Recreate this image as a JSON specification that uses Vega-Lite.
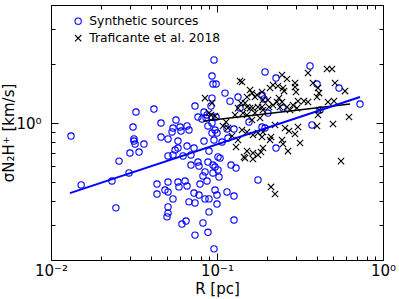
{
  "$schema": "https://vega.github.io/schema/vega-lite/v6.json",
  "width": 332,
  "height": 255,
  "autosize": {"type": "none"},
  "padding": {"left": 51, "top": 5, "right": 16, "bottom": 39},
  "config": {
    "font": "DejaVu Sans",
    "view": {"stroke": "black", "strokeWidth": 1},
    "axis": {"grid": false, "domain": false, "tickColor": "black", "labelColor": "black", "titleColor": "black", "labelFontSize": 15, "titleFontSize": 15, "titleFontWeight": "normal", "labelFlush": false, "labelOverlap": false}
  },
  "datasets": {
    "pts": [
      {"R":0.0132,"sigma":0.858,"series":"Synthetic sources"},{"R":0.0152,"sigma":0.483,"series":"Synthetic sources"},{"R":0.0233,"sigma":0.506,"series":"Synthetic sources"},{"R":0.0246,"sigma":0.369,"series":"Synthetic sources"},{"R":0.0257,"sigma":0.639,"series":"Synthetic sources"},{"R":0.0295,"sigma":0.556,"series":"Synthetic sources"},{"R":0.0299,"sigma":0.703,"series":"Synthetic sources"},{"R":0.0312,"sigma":0.954,"series":"Synthetic sources"},{"R":0.0316,"sigma":0.829,"series":"Synthetic sources"},{"R":0.0325,"sigma":1.138,"series":"Synthetic sources"},{"R":0.0339,"sigma":0.711,"series":"Synthetic sources"},{"R":0.0316,"sigma":0.809,"series":"Synthetic sources"},{"R":0.0321,"sigma":0.781,"series":"Synthetic sources"},{"R":0.0363,"sigma":0.781,"series":"Synthetic sources"},{"R":0.0417,"sigma":1.178,"series":"Synthetic sources"},{"R":0.0435,"sigma":0.488,"series":"Synthetic sources"},{"R":0.0435,"sigma":0.434,"series":"Synthetic sources"},{"R":0.046,"sigma":1.0,"series":"Synthetic sources"},{"R":0.046,"sigma":0.848,"series":"Synthetic sources"},{"R":0.0486,"sigma":0.455,"series":"Synthetic sources"},{"R":0.0507,"sigma":0.5,"series":"Synthetic sources"},{"R":0.0507,"sigma":0.445,"series":"Synthetic sources"},{"R":0.0507,"sigma":0.373,"series":"Synthetic sources"},{"R":0.0507,"sigma":0.347,"series":"Synthetic sources"},{"R":0.05,"sigma":0.332,"series":"Synthetic sources"},{"R":0.0507,"sigma":0.829,"series":"Synthetic sources"},{"R":0.0507,"sigma":0.679,"series":"Synthetic sources"},{"R":0.0543,"sigma":0.41,"series":"Synthetic sources"},{"R":0.0959,"sigma":2.097,"series":"Synthetic sources"},{"R":0.0933,"sigma":1.737,"series":"Synthetic sources"},{"R":0.0946,"sigma":1.581,"series":"Synthetic sources"},{"R":0.0987,"sigma":1.581,"series":"Synthetic sources"},{"R":0.1118,"sigma":1.421,"series":"Synthetic sources"},{"R":0.1338,"sigma":1.357,"series":"Synthetic sources"},{"R":0.1198,"sigma":1.293,"series":"Synthetic sources"},{"R":0.0933,"sigma":1.34,"series":"Synthetic sources"},{"R":0.0737,"sigma":1.22,"series":"Synthetic sources"},{"R":0.092,"sigma":1.22,"series":"Synthetic sources"},{"R":0.0835,"sigma":1.138,"series":"Synthetic sources"},{"R":0.0768,"sigma":1.073,"series":"Synthetic sources"},{"R":0.0812,"sigma":1.049,"series":"Synthetic sources"},{"R":0.0566,"sigma":1.036,"series":"Synthetic sources"},{"R":0.0543,"sigma":0.943,"series":"Synthetic sources"},{"R":0.0599,"sigma":0.954,"series":"Synthetic sources"},{"R":0.0607,"sigma":0.91,"series":"Synthetic sources"},{"R":0.0536,"sigma":0.9,"series":"Synthetic sources"},{"R":0.066,"sigma":0.966,"series":"Synthetic sources"},{"R":0.0678,"sigma":0.921,"series":"Synthetic sources"},{"R":0.0582,"sigma":0.809,"series":"Synthetic sources"},{"R":0.0582,"sigma":0.745,"series":"Synthetic sources"},{"R":0.066,"sigma":0.763,"series":"Synthetic sources"},{"R":0.0727,"sigma":0.745,"series":"Synthetic sources"},{"R":0.0543,"sigma":0.687,"series":"Synthetic sources"},{"R":0.0624,"sigma":0.679,"series":"Synthetic sources"},{"R":0.0697,"sigma":0.687,"series":"Synthetic sources"},{"R":0.0895,"sigma":0.719,"series":"Synthetic sources"},{"R":0.0835,"sigma":0.809,"series":"Synthetic sources"},{"R":0.0959,"sigma":0.819,"series":"Synthetic sources"},{"R":0.1072,"sigma":0.8,"series":"Synthetic sources"},{"R":0.1,"sigma":0.889,"series":"Synthetic sources"},{"R":0.0882,"sigma":0.966,"series":"Synthetic sources"},{"R":0.0933,"sigma":1.0,"series":"Synthetic sources"},{"R":0.0933,"sigma":0.889,"series":"Synthetic sources"},{"R":0.1014,"sigma":0.671,"series":"Synthetic sources"},{"R":0.1043,"sigma":0.662,"series":"Synthetic sources"},{"R":0.1215,"sigma":0.61,"series":"Synthetic sources"},{"R":0.1302,"sigma":0.589,"series":"Synthetic sources"},{"R":0.0882,"sigma":0.632,"series":"Synthetic sources"},{"R":0.0973,"sigma":0.596,"series":"Synthetic sources"},{"R":0.1014,"sigma":0.576,"series":"Synthetic sources"},{"R":0.0847,"sigma":0.563,"series":"Synthetic sources"},{"R":0.1149,"sigma":0.932,"series":"Synthetic sources"},{"R":0.1266,"sigma":0.932,"series":"Synthetic sources"},{"R":0.1165,"sigma":0.838,"series":"Synthetic sources"},{"R":0.0933,"sigma":1.073,"series":"Synthetic sources"},{"R":0.0859,"sigma":1.06,"series":"Synthetic sources"},{"R":0.0582,"sigma":0.5,"series":"Synthetic sources"},{"R":0.0642,"sigma":0.506,"series":"Synthetic sources"},{"R":0.066,"sigma":0.477,"series":"Synthetic sources"},{"R":0.059,"sigma":0.472,"series":"Synthetic sources"},{"R":0.079,"sigma":0.488,"series":"Synthetic sources"},{"R":0.0871,"sigma":0.506,"series":"Synthetic sources"},{"R":0.0823,"sigma":0.537,"series":"Synthetic sources"},{"R":0.0946,"sigma":0.556,"series":"Synthetic sources"},{"R":0.1028,"sigma":0.53,"series":"Synthetic sources"},{"R":0.0727,"sigma":0.439,"series":"Synthetic sources"},{"R":0.0779,"sigma":0.429,"series":"Synthetic sources"},{"R":0.0678,"sigma":0.396,"series":"Synthetic sources"},{"R":0.0737,"sigma":0.391,"series":"Synthetic sources"},{"R":0.0847,"sigma":0.41,"series":"Synthetic sources"},{"R":0.0895,"sigma":0.41,"series":"Synthetic sources"},{"R":0.0973,"sigma":0.455,"series":"Synthetic sources"},{"R":0.1,"sigma":0.429,"series":"Synthetic sources"},{"R":0.1149,"sigma":0.445,"series":"Synthetic sources"},{"R":0.1266,"sigma":0.424,"series":"Synthetic sources"},{"R":0.1,"sigma":0.386,"series":"Synthetic sources"},{"R":0.0895,"sigma":0.352,"series":"Synthetic sources"},{"R":0.0651,"sigma":0.316,"series":"Synthetic sources"},{"R":0.0615,"sigma":0.305,"series":"Synthetic sources"},{"R":0.0823,"sigma":0.309,"series":"Synthetic sources"},{"R":0.1266,"sigma":0.32,"series":"Synthetic sources"},{"R":0.0737,"sigma":0.268,"series":"Synthetic sources"},{"R":0.0882,"sigma":0.277,"series":"Synthetic sources"},{"R":0.0959,"sigma":0.228,"series":"Synthetic sources"},{"R":0.0559,"sigma":0.728,"series":"Synthetic sources"},{"R":0.0697,"sigma":0.61,"series":"Synthetic sources"},{"R":0.0768,"sigma":0.632,"series":"Synthetic sources"},{"R":0.0779,"sigma":0.603,"series":"Synthetic sources"},{"R":0.1947,"sigma":1.821,"series":"Synthetic sources"},{"R":0.2267,"sigma":1.696,"series":"Synthetic sources"},{"R":0.3633,"sigma":1.954,"series":"Synthetic sources"},{"R":0.4004,"sigma":1.581,"series":"Synthetic sources"},{"R":0.1867,"sigma":1.389,"series":"Synthetic sources"},{"R":0.192,"sigma":1.326,"series":"Synthetic sources"},{"R":0.2498,"sigma":1.191,"series":"Synthetic sources"},{"R":0.5433,"sigma":1.508,"series":"Synthetic sources"},{"R":0.7269,"sigma":1.249,"series":"Synthetic sources"},{"R":0.3735,"sigma":0.977,"series":"Synthetic sources"},{"R":0.2267,"sigma":0.745,"series":"Synthetic sources"},{"R":0.1867,"sigma":0.954,"series":"Synthetic sources"},{"R":0.1947,"sigma":0.943,"series":"Synthetic sources"},{"R":0.1559,"sigma":1.012,"series":"Synthetic sources"},{"R":0.1766,"sigma":0.512,"series":"Synthetic sources"},{"R":0.2028,"sigma":1.124,"series":"Synthetic sources"},{"R":0.4174,"sigma":1.165,"series":"Synthetic sources"},{"R":0.1376,"sigma":1.191,"series":"Synthetic sources"},{"R":0.0871,"sigma":1.099,"series":"Synthetic sources"},{"R":0.0987,"sigma":1.073,"series":"Synthetic sources"},{"R":0.0973,"sigma":0.921,"series":"Synthetic sources"},{"R":0.0946,"sigma":0.61,"series":"Synthetic sources"},
      {"R":0.0847,"sigma":1.34,"series":"Traficante et al. 2018"},{"R":0.0933,"sigma":1.263,"series":"Traficante et al. 2018"},{"R":0.1376,"sigma":1.637,"series":"Traficante et al. 2018"},{"R":0.1415,"sigma":1.619,"series":"Traficante et al. 2018"},{"R":0.1395,"sigma":1.263,"series":"Traficante et al. 2018"},{"R":0.092,"sigma":1.099,"series":"Traficante et al. 2018"},{"R":0.0973,"sigma":1.086,"series":"Traficante et al. 2018"},{"R":0.1134,"sigma":1.012,"series":"Traficante et al. 2018"},{"R":0.1087,"sigma":0.966,"series":"Traficante et al. 2018"},{"R":0.1165,"sigma":0.943,"series":"Traficante et al. 2018"},{"R":0.1232,"sigma":0.858,"series":"Traficante et al. 2018"},{"R":0.1338,"sigma":1.191,"series":"Traficante et al. 2018"},{"R":0.1415,"sigma":0.921,"series":"Traficante et al. 2018"},{"R":0.1454,"sigma":0.671,"series":"Traficante et al. 2018"},{"R":0.2464,"sigma":1.758,"series":"Traficante et al. 2018"},{"R":0.2641,"sigma":1.678,"series":"Traficante et al. 2018"},{"R":0.2951,"sigma":1.599,"series":"Traficante et al. 2018"},{"R":0.2951,"sigma":1.526,"series":"Traficante et al. 2018"},{"R":0.2993,"sigma":1.439,"series":"Traficante et al. 2018"},{"R":0.2174,"sigma":1.563,"series":"Traficante et al. 2018"},{"R":0.233,"sigma":1.544,"series":"Traficante et al. 2018"},{"R":0.2086,"sigma":1.508,"series":"Traficante et al. 2018"},{"R":0.2498,"sigma":1.508,"series":"Traficante et al. 2018"},{"R":0.2534,"sigma":1.455,"series":"Traficante et al. 2018"},{"R":0.1581,"sigma":1.473,"series":"Traficante et al. 2018"},{"R":0.1625,"sigma":1.421,"series":"Traficante et al. 2018"},{"R":0.1516,"sigma":1.357,"series":"Traficante et al. 2018"},{"R":0.1695,"sigma":1.357,"series":"Traficante et al. 2018"},{"R":0.3075,"sigma":1.293,"series":"Traficante et al. 2018"},{"R":0.3343,"sigma":1.293,"series":"Traficante et al. 2018"},{"R":0.3533,"sigma":1.279,"series":"Traficante et al. 2018"},{"R":0.3786,"sigma":1.599,"series":"Traficante et al. 2018"},{"R":0.3533,"sigma":1.799,"series":"Traficante et al. 2018"},{"R":0.1475,"sigma":1.263,"series":"Traficante et al. 2018"},{"R":0.2028,"sigma":1.309,"series":"Traficante et al. 2018"},{"R":0.2174,"sigma":1.234,"series":"Traficante et al. 2018"},{"R":0.2464,"sigma":1.279,"series":"Traficante et al. 2018"},{"R":0.2641,"sigma":1.206,"series":"Traficante et al. 2018"},{"R":0.2869,"sigma":1.234,"series":"Traficante et al. 2018"},{"R":0.1867,"sigma":1.206,"series":"Traficante et al. 2018"},{"R":0.1581,"sigma":1.191,"series":"Traficante et al. 2018"},{"R":0.46,"sigma":1.887,"series":"Traficante et al. 2018"},{"R":0.4929,"sigma":1.887,"series":"Traficante et al. 2018"},{"R":0.514,"sigma":1.599,"series":"Traficante et al. 2018"},{"R":0.4058,"sigma":1.508,"series":"Traficante et al. 2018"},{"R":0.4116,"sigma":1.421,"series":"Traficante et al. 2018"},{"R":0.5905,"sigma":1.455,"series":"Traficante et al. 2018"},{"R":0.4662,"sigma":1.279,"series":"Traficante et al. 2018"},{"R":0.5068,"sigma":1.293,"series":"Traficante et al. 2018"},{"R":0.4058,"sigma":1.099,"series":"Traficante et al. 2018"},{"R":0.4004,"sigma":0.966,"series":"Traficante et al. 2018"},{"R":0.4996,"sigma":0.988,"series":"Traficante et al. 2018"},{"R":0.6241,"sigma":1.073,"series":"Traficante et al. 2018"},{"R":0.5585,"sigma":0.639,"series":"Traficante et al. 2018"},{"R":0.1516,"sigma":1.206,"series":"Traficante et al. 2018"},{"R":0.1647,"sigma":1.191,"series":"Traficante et al. 2018"},{"R":0.1766,"sigma":1.206,"series":"Traficante et al. 2018"},{"R":0.1892,"sigma":1.165,"series":"Traficante et al. 2018"},{"R":0.2058,"sigma":1.206,"series":"Traficante et al. 2018"},{"R":0.2397,"sigma":1.206,"series":"Traficante et al. 2018"},{"R":0.2753,"sigma":1.165,"series":"Traficante et al. 2018"},{"R":0.3034,"sigma":1.191,"series":"Traficante et al. 2018"},{"R":0.1516,"sigma":1.099,"series":"Traficante et al. 2018"},{"R":0.1695,"sigma":1.124,"series":"Traficante et al. 2018"},{"R":0.1816,"sigma":1.06,"series":"Traficante et al. 2018"},{"R":0.1625,"sigma":1.036,"series":"Traficante et al. 2018"},{"R":0.1516,"sigma":0.9,"series":"Traficante et al. 2018"},{"R":0.1647,"sigma":0.869,"series":"Traficante et al. 2018"},{"R":0.1766,"sigma":0.889,"series":"Traficante et al. 2018"},{"R":0.1892,"sigma":0.9,"series":"Traficante et al. 2018"},{"R":0.1867,"sigma":0.848,"series":"Traficante et al. 2018"},{"R":0.2115,"sigma":0.848,"series":"Traficante et al. 2018"},{"R":0.2086,"sigma":0.819,"series":"Traficante et al. 2018"},{"R":0.2236,"sigma":0.977,"series":"Traficante et al. 2018"},{"R":0.257,"sigma":0.943,"series":"Traficante et al. 2018"},{"R":0.2716,"sigma":0.91,"series":"Traficante et al. 2018"},{"R":0.2951,"sigma":0.879,"series":"Traficante et al. 2018"},{"R":0.3075,"sigma":0.954,"series":"Traficante et al. 2018"},{"R":0.2464,"sigma":0.819,"series":"Traficante et al. 2018"},{"R":0.2498,"sigma":0.781,"series":"Traficante et al. 2018"},{"R":0.2677,"sigma":0.719,"series":"Traficante et al. 2018"},{"R":0.3163,"sigma":0.79,"series":"Traficante et al. 2018"},{"R":0.1516,"sigma":0.719,"series":"Traficante et al. 2018"},{"R":0.1647,"sigma":0.703,"series":"Traficante et al. 2018"},{"R":0.1766,"sigma":0.687,"series":"Traficante et al. 2018"},{"R":0.1841,"sigma":0.711,"series":"Traficante et al. 2018"},{"R":0.1892,"sigma":0.745,"series":"Traficante et al. 2018"},{"R":0.1475,"sigma":0.662,"series":"Traficante et al. 2018"},{"R":0.1647,"sigma":0.655,"series":"Traficante et al. 2018"},{"R":0.2115,"sigma":0.472,"series":"Traficante et al. 2018"},{"R":0.2236,"sigma":0.434,"series":"Traficante et al. 2018"},{"R":0.4116,"sigma":1.165,"series":"Traficante et al. 2018"},{"R":0.1434,"sigma":1.124,"series":"Traficante et al. 2018"},{"R":0.1742,"sigma":1.389,"series":"Traficante et al. 2018"},{"R":0.1867,"sigma":1.439,"series":"Traficante et al. 2018"},{"R":0.1892,"sigma":1.309,"series":"Traficante et al. 2018"},{"R":0.2299,"sigma":1.279,"series":"Traficante et al. 2018"},{"R":0.2363,"sigma":1.34,"series":"Traficante et al. 2018"},{"R":0.4004,"sigma":1.357,"series":"Traficante et al. 2018"},{"R":0.0895,"sigma":1.124,"series":"Traficante et al. 2018"},{"R":0.1284,"sigma":1.099,"series":"Traficante et al. 2018"},{"R":0.1338,"sigma":0.819,"series":"Traficante et al. 2018"},{"R":0.1302,"sigma":0.754,"series":"Traficante et al. 2018"}
    ],
    "fitSyn": [{"R":0.013,"sigma":0.439},{"R":0.727,"sigma":1.358}],
    "fitTraf": [{"R":0.0836,"sigma":1.024},{"R":0.633,"sigma":1.25}]
  },
  "layer": [
    {
      "data": {"name": "pts"},
      "mark": {"type": "point", "filled": false, "size": 40, "strokeWidth": 1.1, "opacity": 1},
      "encoding": {
        "x": {"field": "R", "type": "quantitative",
          "scale": {"type": "log", "domain": [0.01, 1], "nice": false},
          "axis": {"orient": "bottom", "values": [0.01,0.02,0.03,0.04,0.05,0.06,0.07,0.08,0.09,0.1,0.2,0.3,0.4,0.5,0.6,0.7,0.8,0.9,1],
            "labelExpr": "datum.value == 0.01 ? '10⁻²' : datum.value == 0.1 ? '10⁻¹' : datum.value == 1 ? '10⁰' : ''",
            "tickSize": {"condition": {"test": "datum.value == 0.01 || datum.value == 0.1 || datum.value == 1", "value": -7}, "value": -4},
            "labelPadding": 10, "title": "R [pc]", "titlePadding": 0}},
        "y": {"field": "sigma", "type": "quantitative",
          "scale": {"type": "log", "domain": [0.2, 4], "nice": false},
          "axis": {"orient": "left", "values": [0.2,0.3,0.4,0.5,0.6,0.7,0.8,0.9,1,2,3,4],
            "labelExpr": "datum.value == 1 ? '10⁰' : ''",
            "tickSize": {"condition": {"test": "datum.value == 1", "value": -7}, "value": -4},
            "labelPadding": 17, "title": "σN₂H⁺ [km/s]", "titlePadding": -1}},
        "color": {"field": "series", "type": "nominal",
          "scale": {"domain": ["Synthetic sources", "Traficante et al. 2018"], "range": ["#0000ff", "#000000"]},
          "legend": {"orient": "none", "legendX": 21, "legendY": 10, "title": null, "labelFontSize": 12.3, "labelColor": "black", "symbolStrokeWidth": 1.1, "symbolSize": 40, "rowPadding": 4, "labelOffset": 5, "padding": 0}},
        "shape": {"field": "series", "type": "nominal",
          "scale": {"domain": ["Synthetic sources", "Traficante et al. 2018"], "range": ["circle", "M-1,-1L1,1M-1,1L1,-1"]}}
      }
    },
    {
      "data": {"name": "fitTraf"},
      "mark": {"type": "line", "color": "black", "strokeWidth": 1.5},
      "encoding": {
        "x": {"field": "R", "type": "quantitative", "axis": null},
        "y": {"field": "sigma", "type": "quantitative", "axis": null}
      }
    },
    {
      "data": {"name": "fitSyn"},
      "mark": {"type": "line", "color": "#0000ff", "strokeWidth": 2},
      "encoding": {
        "x": {"field": "R", "type": "quantitative",
          "axis": {"orient": "top", "values": [0.01,0.02,0.03,0.04,0.05,0.06,0.07,0.08,0.09,0.1,0.2,0.3,0.4,0.5,0.6,0.7,0.8,0.9,1], "labels": false, "title": null,
            "tickSize": {"condition": {"test": "datum.value == 0.01 || datum.value == 0.1 || datum.value == 1", "value": -7}, "value": -4}}},
        "y": {"field": "sigma", "type": "quantitative",
          "axis": {"orient": "right", "values": [0.2,0.3,0.4,0.5,0.6,0.7,0.8,0.9,1,2,3,4], "labels": false, "title": null,
            "tickSize": {"condition": {"test": "datum.value == 1", "value": -7}, "value": -4}}}
      }
    }
  ],
  "resolve": {"axis": {"x": "independent", "y": "independent"}}
}
